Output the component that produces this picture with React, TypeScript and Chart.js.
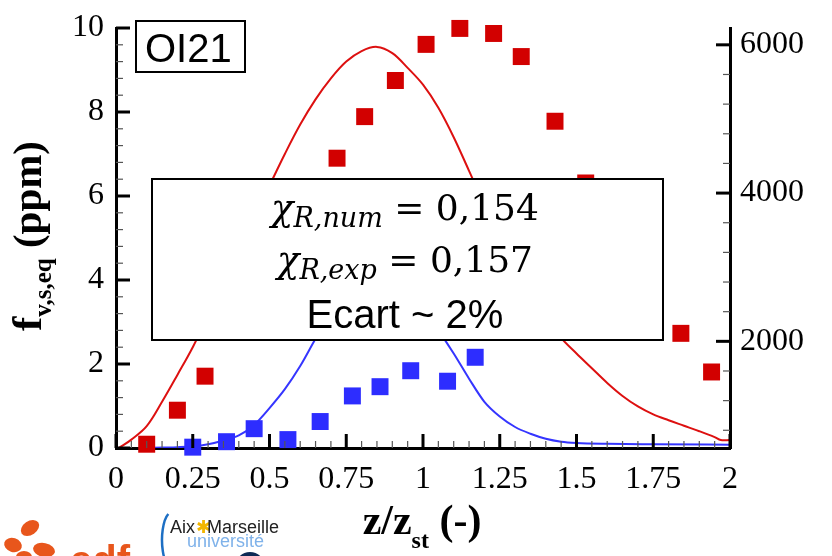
import { useEffect, useRef } from 'react';
import { Chart, registerables } from 'chart.js';

Chart.register(...registerables);

// Mesures (carrés) : fraction volumique de suies en fonction de z/z_st
const expRedZ = [0.10, 0.20, 0.29, 0.72, 0.81, 0.91, 1.01, 1.12, 1.23, 1.32, 1.43, 1.53, 1.84, 1.94];
const expRedFv = [0.09, 0.90, 1.71, 6.90, 7.89, 8.75, 9.61, 9.99, 9.87, 9.32, 7.78, 6.31, 2.73, 1.81];
const expBlueZ = [0.25, 0.36, 0.45, 0.56, 0.665, 0.77, 0.86, 0.96, 1.08, 1.17];
const expBlueFv = [0.02, 0.15, 0.46, 0.20, 0.63, 1.24, 1.46, 1.84, 1.59, 2.16];

// Calculs (lignes)
const numRedZ = [0.01, 0.05, 0.10, 0.15, 0.20, 0.25, 0.30, 0.35, 0.40, 0.45, 0.50, 0.55, 0.60, 0.65, 0.70,
  0.75, 0.80, 0.85, 0.90, 0.95, 1.00, 1.05, 1.10, 1.15, 1.20, 1.25, 1.30, 1.35, 1.40, 1.45, 1.50, 1.55,
  1.60, 1.65, 1.70, 1.75, 1.80, 1.85, 1.90, 1.95, 1.97, 2.00];
const numRedFv = [0, 0.2, 0.52, 1.1, 1.74, 2.4, 3.15, 3.95, 4.7, 5.5, 6.25, 7.0, 7.7, 8.3, 8.8,
  9.2, 9.45, 9.55, 9.4, 9.05, 8.65, 8.1, 7.4, 6.6, 5.8, 5.1, 4.4, 3.75, 3.15, 2.62, 2.25, 1.9,
  1.55, 1.24, 0.99, 0.8, 0.66, 0.53, 0.4, 0.26, 0.19, 0.19];
const numBlueZ = [0.10, 0.15, 0.20, 0.25, 0.30, 0.35, 0.40, 0.45, 0.50, 0.55, 0.60, 0.65, 0.70, 0.75,
  0.80, 0.85, 0.90, 0.95, 1.00, 1.05, 1.10, 1.15, 1.20, 1.25, 1.30, 1.35, 1.40, 1.45, 1.50, 1.60, 1.75, 2.00];
const numBlueFv = [0.0, 0.01, 0.02, 0.04, 0.09, 0.18, 0.30, 0.55, 0.95, 1.4, 1.95, 2.6, 3.2, 3.7,
  4.0, 4.1, 4.0, 3.7, 3.3, 2.8, 2.25, 1.65, 1.1, 0.75, 0.5, 0.34, 0.22, 0.15, 0.12, 0.10, 0.09, 0.08];

// Graduations
const xTickValues = [0, 0.25, 0.5, 0.75, 1, 1.25, 1.5, 1.75, 2];
const leftTickValues = [0, 2, 4, 6, 8, 10];
const rightTickValues = [2000, 4000, 6000];
const xMinorStep = 0.05;
const leftMinorStep = 0.4;
const rightMinorStep = 400;

// Textes
const flameLabel = 'OI21';
const chiNum = '0,154';
const chiExp = '0,157';
const ecartLabel = 'Ecart ~ 2%';

const RED = '#d20000';
const BLUE = '#2d2dff';
const SERIF = '"Liberation Serif", "Times New Roman", serif';
const SANS = '"Liberation Sans", Arial, sans-serif';
const MATH = '"DejaVu Serif", serif';

type Run = { t: string; font: string; dy?: number; color?: string };

function drawRuns(ctx: CanvasRenderingContext2D, runs: Run[], cx: number, y: number) {
  let total = 0;
  for (const r of runs) {
    ctx.font = r.font;
    total += ctx.measureText(r.t).width;
  }
  let x = cx - total / 2;
  ctx.textAlign = 'left';
  ctx.textBaseline = 'alphabetic';
  for (const r of runs) {
    ctx.font = r.font;
    ctx.fillStyle = r.color ?? '#000';
    ctx.fillText(r.t, x, y + (r.dy ?? 0));
    x += ctx.measureText(r.t).width;
  }
}

const inwardTicks = {
  id: 'inwardTicks',
  afterDatasetsDraw(chart: any) {
    const ctx: CanvasRenderingContext2D = chart.ctx;
    const { x, y, y2 } = chart.scales;
    const area = chart.chartArea;
    ctx.save();
    const seg = (x1: number, y1: number, x2: number, yy2: number, w: number, c: string) => {
      ctx.lineWidth = w;
      ctx.strokeStyle = c;
      ctx.beginPath();
      ctx.moveTo(x1, y1);
      ctx.lineTo(x2, yy2);
      ctx.stroke();
    };
    const isMajor = (v: number, list: number[]) => list.some((m) => Math.abs(m - v) < 1e-6);
    // axe horizontal
    for (let i = 0; i <= Math.round((x.max - x.min) / xMinorStep); i++) {
      const v = x.min + i * xMinorStep;
      const px = x.getPixelForValue(v);
      const major = isMajor(v, xTickValues);
      seg(px, area.bottom, px, area.bottom - (major ? 14 : 7), major ? 3 : 1.2, major ? '#000' : '#555');
    }
    // axe gauche
    for (let i = 0; i <= Math.round((y.max - y.min) / leftMinorStep); i++) {
      const v = y.min + i * leftMinorStep;
      const py = y.getPixelForValue(v);
      const major = isMajor(v, leftTickValues);
      seg(area.left, py, area.left + (major ? 14 : 7), py, major ? 3 : 1.2, major ? '#000' : '#555');
    }
    // axe droit
    for (let v = Math.ceil(y2.min / rightMinorStep) * rightMinorStep; v <= y2.max; v += rightMinorStep) {
      const py = y2.getPixelForValue(v);
      const major = isMajor(v, rightTickValues);
      seg(area.right, py, area.right - (major ? 14 : 7), py, major ? 3 : 1.2, major ? '#000' : '#555');
    }
    ctx.restore();
  },
  afterDraw(chart: any) {
    const ctx: CanvasRenderingContext2D = chart.ctx;
    ctx.save();

    // étiquette de la flamme
    ctx.fillStyle = '#fff';
    ctx.fillRect(136, 21, 109, 51);
    ctx.strokeStyle = '#000';
    ctx.lineWidth = 2;
    ctx.strokeRect(136, 21, 109, 51);
    ctx.fillStyle = '#000';
    ctx.font = `40px ${SANS}`;
    ctx.textAlign = 'left';
    ctx.textBaseline = 'alphabetic';
    ctx.fillText(flameLabel, 145, 62);

    // encadré des fractions radiatives
    ctx.fillStyle = '#fff';
    ctx.fillRect(152, 179, 511, 161);
    ctx.strokeRect(152, 179, 511, 161);
    const cx = 405;
    drawRuns(ctx, [
      { t: 'χ', font: `italic 37px ${MATH}` },
      { t: 'R,num', font: `italic 27px ${MATH}`, dy: 7 },
      { t: ' = ' + chiNum, font: `36px ${MATH}` },
    ], cx, 220);
    drawRuns(ctx, [
      { t: 'χ', font: `italic 37px ${MATH}` },
      { t: 'R,exp', font: `italic 27px ${MATH}`, dy: 7 },
      { t: ' = ' + chiExp, font: `36px ${MATH}` },
    ], cx, 272);
    drawRuns(ctx, [{ t: ecartLabel, font: `40px ${SANS}` }], cx, 328);

    // titre de l'axe horizontal
    drawRuns(ctx, [
      { t: 'z/z', font: `bold 42px ${SERIF}` },
      { t: 'st', font: `bold 24px ${SERIF}`, dy: 14 },
      { t: ' (-)', font: `bold 42px ${SERIF}` },
    ], 422, 534);

    // titre de l'axe vertical gauche
    ctx.save();
    ctx.translate(41, 236);
    ctx.rotate(-Math.PI / 2);
    drawRuns(ctx, [
      { t: 'f', font: `bold 43px ${SERIF}` },
      { t: 'v,s,eq', font: `bold 25px ${SERIF}`, dy: 10 },
      { t: ' (ppm)', font: `bold 41px ${SERIF}` },
    ], 0, 0);
    ctx.restore();

    // logos en pied de page
    ctx.fillStyle = '#e8561c';
    const petals: [number, number, number, number, number][] = [
      [30, 528, 10, 7, -0.6], [13, 545, 9, 7, 0.3], [44, 550, 11, 7, 0.2], [24, 557, 8, 6, 0],
    ];
    for (const [px, py, rx, ry, rot] of petals) {
      ctx.beginPath();
      ctx.ellipse(px, py, rx, ry, rot, 0, Math.PI * 2);
      ctx.fill();
    }
    ctx.font = `bold 40px ${SANS}`;
    ctx.fillText('edf', 70, 574);

    ctx.strokeStyle = '#1d6fc4';
    ctx.lineWidth = 2.5;
    ctx.beginPath();
    ctx.ellipse(172, 540, 10, 28, 0, Math.PI * 0.62, Math.PI * 1.38);
    ctx.stroke();
    ctx.font = `18px ${SANS}`;
    ctx.fillStyle = '#222';
    ctx.fillText('Aix', 170, 533);
    ctx.fillStyle = '#f2b600';
    ctx.fillText('✱', 196, 533);
    ctx.fillStyle = '#222';
    ctx.fillText('Marseille', 207, 533);
    ctx.fillStyle = '#7fb2ea';
    ctx.font = `18px ${SANS}`;
    ctx.fillText('université', 187, 547);
    ctx.fillStyle = '#0d2a55';
    ctx.beginPath();
    ctx.arc(250, 567, 15, 0, Math.PI * 2);
    ctx.fill();

    ctx.restore();
  },
};

export default function App() {
  const canvasRef = useRef<HTMLCanvasElement | null>(null);

  useEffect(() => {
    const canvas = canvasRef.current;
    if (!canvas) return;
    const tickFont = { family: SERIF, size: 32, lineHeight: 1 };
    const fmt = (v: any) => String(+Number(v).toFixed(2));
    const chart = new Chart(canvas, {
      type: 'scatter',
      data: {
        datasets: [
          {
            label: 'exp rouge',
            data: expRedZ.map((z, i) => ({ x: z, y: expRedFv[i] })),
            pointStyle: 'rect',
            pointRadius: 12,
            pointBorderWidth: 0,
            backgroundColor: RED,
            borderColor: RED,
            clip: false,
            order: 0,
          },
          {
            label: 'exp bleu',
            data: expBlueZ.map((z, i) => ({ x: z, y: expBlueFv[i] })),
            pointStyle: 'rect',
            pointRadius: 12,
            pointBorderWidth: 0,
            backgroundColor: BLUE,
            borderColor: BLUE,
            clip: false,
            order: 1,
          },
          {
            label: 'num rouge',
            data: numRedZ.map((z, i) => ({ x: z, y: numRedFv[i] })),
            showLine: true,
            pointRadius: 0,
            borderColor: '#dd1010',
            borderWidth: 2,
            tension: 0.35,
            order: 2,
          },
          {
            label: 'num bleu',
            data: numBlueZ.map((z, i) => ({ x: z, y: numBlueFv[i] })),
            showLine: true,
            pointRadius: 0,
            borderColor: '#3535ff',
            borderWidth: 2,
            cubicInterpolationMode: 'monotone',
            order: 3,
          },
        ],
      },
      options: {
        responsive: false,
        animation: false,
        layout: { padding: { top: 16, left: 0, right: 0, bottom: 0 } },
        plugins: { legend: { display: false }, tooltip: { enabled: false }, title: { display: false } },
        scales: {
          x: {
            type: 'linear',
            position: 'bottom',
            min: 0,
            max: 2,
            grid: { display: false, drawTicks: false },
            border: { display: true, color: '#000', width: 3 },
            ticks: { color: '#000', font: tickFont, padding: 16, callback: fmt, maxRotation: 0, autoSkip: false },
            afterBuildTicks: (s: any) => { s.ticks = xTickValues.map((value) => ({ value })); },
            afterFit: (s: any) => { s.height = 108; },
          },
          y: {
            type: 'linear',
            position: 'left',
            min: 0,
            max: 10,
            grid: { display: false, drawTicks: false },
            border: { display: true, color: '#000', width: 3 },
            ticks: { color: '#000', font: tickFont, padding: 12, callback: fmt, autoSkip: false },
            afterBuildTicks: (s: any) => { s.ticks = leftTickValues.map((value) => ({ value })); },
            afterFit: (s: any) => { s.width = 116; },
          },
          y2: {
            type: 'linear',
            position: 'right',
            min: 561,
            max: 6227,
            grid: { display: false, drawTicks: false },
            border: { display: true, color: '#000', width: 3 },
            ticks: { color: '#000', font: tickFont, padding: 10, callback: (v: any) => String(v), autoSkip: false },
            afterBuildTicks: (s: any) => { s.ticks = rightTickValues.map((value) => ({ value })); },
            afterFit: (s: any) => { s.width = 102; },
          },
        },
      },
      plugins: [inwardTicks],
    } as any);
    return () => chart.destroy();
  }, []);

  return (
    <div style={{ position: 'fixed', left: 0, top: 0, width: 832, height: 556, background: '#fff', overflow: 'hidden' }}>
      <canvas ref={canvasRef} width={832} height={556} style={{ display: 'block' }} />
    </div>
  );
}
